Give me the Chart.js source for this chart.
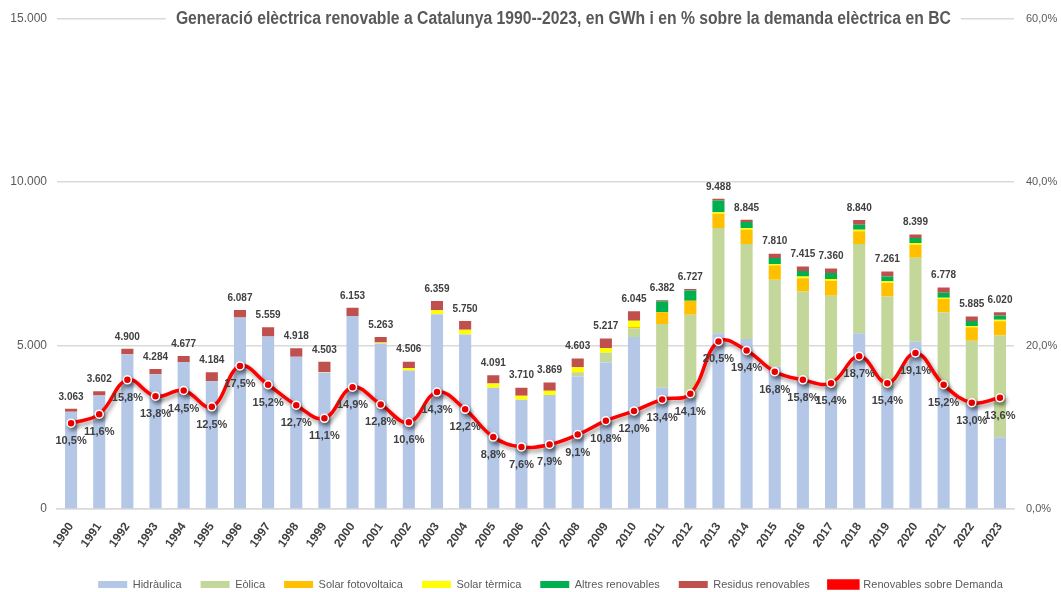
<!DOCTYPE html>
<html>
<head>
<meta charset="utf-8">
<script src="https://cdn.jsdelivr.net/npm/chart.js@4.4.0/dist/chart.umd.min.js"></script>
<style>
  html, body { margin: 0; padding: 0; background: #fff; }
  #wrap { width: 1061px; height: 592px; }
</style>
</head>
<body>
<div id="wrap"><canvas id="GenChart"></canvas></div>
<script>
// Anys
const years = ['1990', '1991', '1992', '1993', '1994', '1995', '1996', '1997', '1998', '1999',
    '2000', '2001', '2002', '2003', '2004', '2005', '2006', '2007', '2008', '2009',
    '2010', '2011', '2012', '2013', '2014', '2015', '2016', '2017', '2018', '2019',
    '2020', '2021', '2022', '2023'];

// Generació per tecnologia (GWh)
const hidraulica = [2973, 3472, 4730, 4124, 4497, 3904, 5857, 5279, 4658, 4178,
    5903, 5063, 4236, 5959, 5335, 3706, 3345, 3484, 4053, 4482,
    5260, 3710, 3394, 5373, 5199, 4352, 3914, 3761, 5373, 3700,
    5116, 3700, 3211, 2193];
const eolica = [0, 0, 0, 0, 0, 0, 0, 0, 0, 0,
    0, 0, 0, 0, 0, 0, 0, 0, 120, 295,
    265, 1948, 2547, 3220, 2906, 2662, 2738, 2763, 2732, 2796,
    2569, 2316, 1936, 3112];
const solarFV = [0, 0, 0, 0, 0, 0, 0, 0, 0, 0,
    0, 0, 0, 0, 0, 0, 0, 0, 20, 0,
    40, 358, 428, 437, 437, 437, 407, 459, 388, 428,
    398, 407, 410, 440];
const solarTermica = [0, 0, 0, 0, 0, 0, 0, 0, 0, 15,
    0, 30, 80, 120, 150, 130, 120, 130, 145, 150,
    195, 0, 0, 50, 50, 45, 50, 50, 50, 40,
    50, 40, 40, 40];
const altres = [0, 0, 0, 0, 0, 0, 0, 0, 0, 0,
    0, 0, 0, 0, 0, 0, 0, 0, 0, 0,
    0, 336, 318, 357, 183, 183, 171, 183, 153, 144,
    153, 153, 153, 135];
const residus = [90, 130, 170, 160, 180, 280, 230, 280, 260, 310,
    250, 170, 190, 280, 265, 255, 245, 255, 265, 290,
    285, 30, 40, 50, 70, 131, 135, 144, 144, 153,
    113, 162, 135, 100];

// Totals (etiquetes sobre les barres)
const totals = [3063, 3602, 4900, 4284, 4677, 4184, 6087, 5559, 4918, 4503,
    6153, 5263, 4506, 6359, 5750, 4091, 3710, 3869, 4603, 5217,
    6045, 6382, 6727, 9488, 8845, 7810, 7415, 7360, 8840, 7261,
    8399, 6778, 5885, 6020];

// Renovables sobre demanda (%)
const pctDemanda = [10.5, 11.6, 15.8, 13.8, 14.5, 12.5, 17.5, 15.2, 12.7, 11.1,
    14.9, 12.8, 10.6, 14.3, 12.2, 8.8, 7.6, 7.9, 9.1, 10.8,
    12.0, 13.4, 14.1, 20.5, 19.4, 16.8, 15.8, 15.4, 18.7, 15.4,
    19.1, 15.2, 13.0, 13.6];

// Eixos
const gwhTicks = [0, 5000, 10000, 15000];
const pctTicks = [0, 20, 40, 60];

const chartTitle = 'Generació elèctrica renovable a Catalunya 1990--2023, en GWh i en % sobre la demanda elèctrica en BC';

const sans = '"Liberation Sans", Arial, sans-serif';

function fmtMiles(v) {
    return String(v).replace(/\B(?=(\d{3})+(?!\d))/g, '.');
}
function fmtPct(v) {
    return v.toFixed(1).replace('.', ',') + '%';
}

function barSet(label, data, color) {
    return {
        type: 'bar',
        label: label,
        data: data,
        backgroundColor: color,
        stack: 'gen',
        yAxisID: 'y',
        order: 1,
        barPercentage: 0.43,
        categoryPercentage: 1
    };
}

// Titol damunt de la linia de 15.000 (lletra estreta)
const titlePlugin = {
    id: 'titleOnGrid',
    afterDraw(chart) {
        const ctx = chart.ctx;
        const y = chart.scales.y.getPixelForValue(15000);
        const cx = chart.width * 0.531;
        ctx.save();
        ctx.font = 'bold 18px ' + sans;
        const w = ctx.measureText(chartTitle).width;
        const sx = Math.min(1, 775 / w);
        ctx.fillStyle = '#fff';
        ctx.fillRect(cx - w * sx / 2 - 10, y - 12, w * sx + 20, 24);
        ctx.translate(cx, y);
        ctx.scale(sx, 1);
        ctx.fillStyle = '#595959';
        ctx.textAlign = 'center';
        ctx.textBaseline = 'middle';
        ctx.fillText(chartTitle, 0, 0);
        ctx.restore();
    }
};

// La llegenda queda una mica desplaçada a la dreta
const legendShift = {
    id: 'legendShift',
    afterLayout(chart) {
        chart.legend.left += 20;
        chart.legend.right += 20;
    }
};

// Etiquetes de totals i percentatges
const labelsPlugin = {
    id: 'valueLabels',
    afterDatasetsDraw(chart) {
        const ctx = chart.ctx;
        const xs = chart.scales.x, ys = chart.scales.y, y1 = chart.scales.y1;
        ctx.save();
        ctx.textAlign = 'center';
        ctx.fillStyle = '#404040';
        ctx.font = 'bold 10px ' + sans;
        ctx.textBaseline = 'bottom';
        totals.forEach((t, i) => {
            ctx.fillText(fmtMiles(t), xs.getPixelForValue(i), ys.getPixelForValue(t) - 7);
        });
        ctx.font = 'bold 11px ' + sans;
        ctx.textBaseline = 'middle';
        pctDemanda.forEach((p, i) => {
            ctx.fillText(fmtPct(p), xs.getPixelForValue(i), y1.getPixelForValue(p) + 18);
        });
        ctx.restore();
    }
};

// Ombra de la linia
const shadowPlugin = {
    id: 'lineShadow',
    beforeDatasetDraw(chart, args) {
        if (chart.data.datasets[args.index].type === 'line') {
            const ctx = chart.ctx;
            ctx.save();
            ctx.shadowColor = 'rgba(0,0,0,0.4)';
            ctx.shadowBlur = 4;
            ctx.shadowOffsetX = 2;
            ctx.shadowOffsetY = 3;
        }
    },
    afterDatasetDraw(chart, args) {
        if (chart.data.datasets[args.index].type === 'line') {
            chart.ctx.restore();
        }
    }
};

const chartData = {
    labels: years,
    datasets: [
        barSet('Hidràulica', hidraulica, '#B4C7E7'),
        barSet('Eòlica', eolica, '#C4D79B'),
        barSet('Solar fotovoltaica', solarFV, '#FFC000'),
        barSet('Solar tèrmica', solarTermica, '#FFFF00'),
        barSet('Altres renovables', altres, '#00B050'),
        barSet('Residus renovables', residus, '#C0504D'),
        {
            type: 'line',
            label: 'Renovables sobre Demanda',
            data: pctDemanda,
            yAxisID: 'y1',
            order: 0,
            borderColor: '#FF0000',
            backgroundColor: '#FF0000',
            borderWidth: 3.5,
            tension: 0.4,
            pointRadius: 4,
            pointBackgroundColor: '#FF0000',
            pointBorderColor: '#FFFFFF',
            pointBorderWidth: 1.5
        }
    ]
};

const chartOptions = {
    responsive: true,
    maintainAspectRatio: false,
    animation: false,
    devicePixelRatio: 1,
    layout: {
        padding: { top: 18, left: 0, right: 0, bottom: -8 }
    },
    scales: {
        x: {
            stacked: true,
            grid: { display: false },
            border: { color: '#D9D9D9', width: 1.5 },
            ticks: {
                color: '#404040',
                font: { size: 12, weight: 'bold', family: sans },
                minRotation: 55,
                maxRotation: 55,
                padding: 3
            },
            afterFit: s => { s.height = 51; }
        },
        y: {
            stacked: true,
            min: 0,
            max: 15000,
            afterBuildTicks: s => { s.ticks = gwhTicks.map(v => ({ value: v })); },
            ticks: {
                color: '#595959',
                font: { size: 12, family: sans },
                padding: 10,
                callback: v => fmtMiles(v)
            },
            grid: { color: '#D9D9D9', lineWidth: 1.5, drawTicks: false },
            border: { display: false },
            afterFit: s => { s.width = 57; }
        },
        y1: {
            position: 'right',
            min: 0,
            max: 60,
            afterBuildTicks: s => { s.ticks = pctTicks.map(v => ({ value: v })); },
            ticks: {
                color: '#595959',
                font: { size: 11, family: sans },
                padding: 12,
                callback: v => fmtPct(v)
            },
            grid: { drawOnChartArea: false, drawTicks: false },
            border: { display: false },
            afterFit: s => { s.width = 47; }
        }
    },
    plugins: {
        title: { display: false },
        tooltip: { enabled: false },
        legend: {
            position: 'bottom',
            labels: {
                boxWidth: 29,
                boxHeight: 7,
                padding: 19,
                color: '#595959',
                font: { size: 11, family: sans },
                sort: (a, b) => a.datasetIndex - b.datasetIndex
            }
        }
    }
};

document.addEventListener('DOMContentLoaded', function() {
    const ctx = document.getElementById('GenChart').getContext('2d');
    new Chart(ctx, {
        data: chartData,
        options: chartOptions,
        plugins: [titlePlugin, labelsPlugin, shadowPlugin, legendShift]
    });
});
</script>
</body>
</html>
